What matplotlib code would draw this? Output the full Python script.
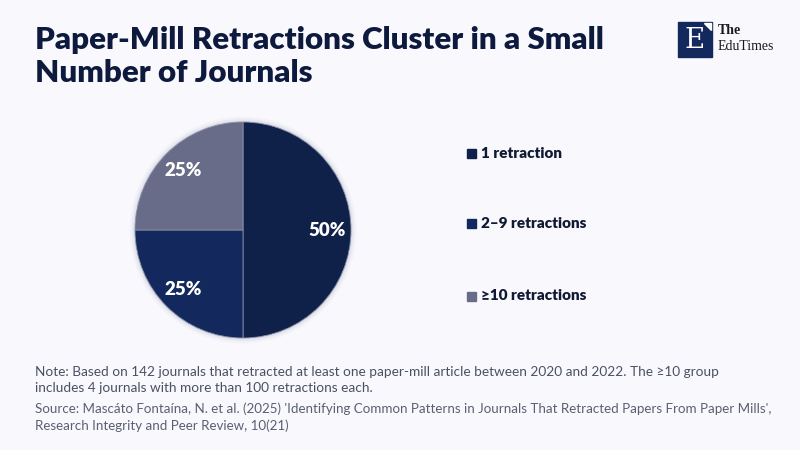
import matplotlib.pyplot as plt
from matplotlib.patches import Rectangle, Polygon, Circle

plt.rcParams['font.family'] = ['Lato', 'DejaVu Sans']

# data
categories = ["1 retraction", "2–9 retractions", "≥10 retractions"]
shares = [50, 25, 25]
colors = ["#0f2049", "#13285c", "#686c89"]

title = "Paper-Mill Retractions Cluster in a Small\nNumber of Journals"
note = ("Note: Based on 142 journals that retracted at least one paper-mill article between 2020 and 2022. The ≥10 group\n"
        "includes 4 journals with more than 100 retractions each.")
source = ("Source: Mascáto Fontaína, N. et al. (2025) 'Identifying Common Patterns in Journals That Retracted Papers From Paper Mills',\n"
          "Research Integrity and Peer Review, 10(21)")

bg = "#f8f8fd"
W, H = 800, 450
fig = plt.figure(figsize=(8, 4.5), dpi=100, facecolor=bg)

# pie, centre (243, 230) px, radius 108 px
cx, cy, r = 243, 230, 108
ax = fig.add_axes([(cx - r) / W, (H - cy - r) / H, 2 * r / W, 2 * r / H])
ax.set_facecolor(bg)
# soft shadow
for k, a in [(1.05, 0.025), (1.03, 0.035), (1.015, 0.05)]:
    ax.add_patch(Circle((0, 0), k, color="#0f2049", alpha=a, lw=0, zorder=0, clip_on=False))
wedges, texts, autotexts = ax.pie(shares, colors=colors, startangle=90, counterclock=False,
                                  autopct=lambda p: f"{p:.0f}%", pctdistance=0.78,
                                  wedgeprops=dict(linewidth=0.6, edgecolor="#8a8fa8"),
                                  textprops=dict(color="white", fontsize=13.5, fontweight="heavy"))
ax.set_xlim(-1, 1)
ax.set_ylim(-1, 1)
ax.set_aspect("equal")
ax.axis("off")

# title
fig.text(35 / W, 1 - 26 / H, title, ha="left", va="top", fontsize=22.5, fontweight="heavy",
         color="#0e1a3d", linespacing=1.22)

# logo
fig.patches.append(Rectangle((678 / W, 1 - 57 / H), 34 / W, 35 / H, transform=fig.transFigure,
                             color="#13285c", zorder=3))
fig.patches.append(Polygon([(704 / W, 1 - 23 / H), (711 / W, 1 - 23 / H), (711 / W, 1 - 30 / H)],
                           closed=True, transform=fig.transFigure, color="white", zorder=4))
fig.text(695 / W, 1 - 40 / H, "E", ha="center", va="center", fontsize=20, color="white",
         family="DejaVu Serif", zorder=5)
fig.text(718 / W, 1 - 31 / H, "The", ha="left", va="center", fontsize=10, color="#1a1a1a",
         family="Liberation Serif", fontweight="bold")
fig.text(718 / W, 1 - 46 / H, "EduTimes", ha="left", va="center", fontsize=10, color="#1a1a1a",
         family="Liberation Serif")

# legend
legend_y = [153, 223, 296]
for lab, col, y in zip(categories, colors, legend_y):
    fig.patches.append(Rectangle((467 / W, 1 - (y + 5) / H), 9 / W, 9 / H,
                                 transform=fig.transFigure, color=col))
    fig.text(481 / W, 1 - y / H, lab, ha="left", va="center", fontsize=11,
             fontweight="heavy", color="#111a33")

# footnotes
fig.text(35 / W, 1 - 366 / H, note, ha="left", va="top", fontsize=9.8, color="#4b5064",
         linespacing=1.45)
fig.text(35 / W, 1 - 402 / H, source, ha="left", va="top", fontsize=9.6, color="#5a5f72",
         linespacing=1.45)

fig.savefig("out.png", dpi=100, facecolor=bg)
